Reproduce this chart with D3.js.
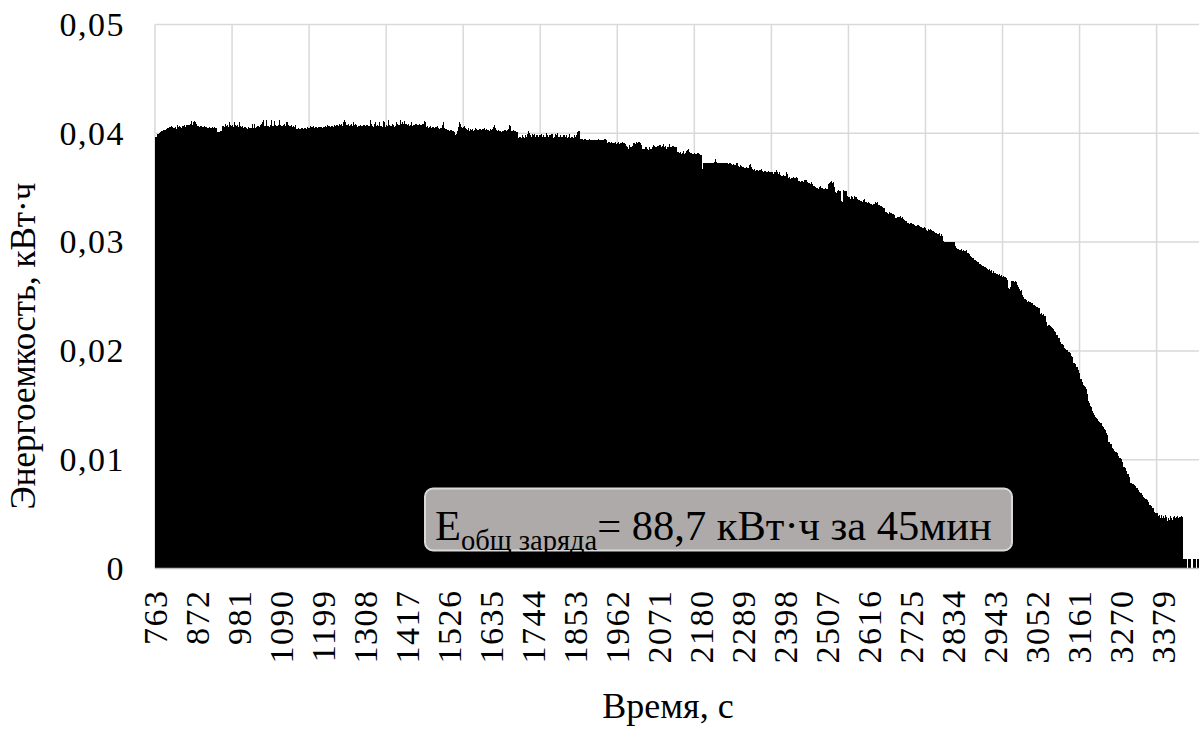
<!DOCTYPE html>
<html>
<head>
<meta charset="utf-8">
<script src="https://cdn.jsdelivr.net/npm/d3@7"></script>
<style>
  html, body { margin: 0; padding: 0; background: #fff; }
</style>
</head>
<body>
<svg id="chart" width="1199" height="733" style="display:block"></svg>
<script>
// Energy delivered in each second of the charging session, in units of 1e-4 kWh (0.1 Wh).
// One row per 50 seconds, starting at second 763.
const energyE4 = [
397,397,398,397,398,398,399,399,398,399,400,400,399,401,401,400,402,401,402,402,403,402,403,404,403,404,404,403,405,404,405,404,405,405,406,405,404,406,405,406,406,405,407,406,405,406,407,406,405,406,
405,406,407,406,405,404,406,407,408,406,405,406,405,407,406,405,406,404,405,406,406,407,408,407,406,407,408,406,407,406,407,408,407,406,408,409,408,407,406,408,409,408,409,410,411,410,409,408,409,410,
411,410,411,410,409,410,411,409,408,407,407,406,407,408,407,406,405,406,407,406,407,408,407,406,407,406,405,406,407,408,407,406,405,406,407,406,405,406,405,404,405,406,407,406,405,406,405,404,405,406,
406,405,406,407,406,405,404,405,406,405,403,402,401,402,401,402,401,401,402,401,402,401,402,404,406,407,406,407,408,407,406,407,408,409,408,407,406,407,408,407,406,407,408,410,409,408,407,406,407,408,
407,408,407,406,407,408,410,409,408,407,406,407,406,407,408,407,406,407,409,410,409,407,406,407,406,405,406,407,406,405,406,407,406,405,406,405,404,405,406,405,404,405,406,405,404,405,404,405,406,405,
405,406,408,409,407,405,406,408,409,407,405,404,405,406,405,406,407,406,407,408,407,406,407,408,410,411,409,407,408,410,411,412,410,408,407,406,407,409,411,412,410,408,407,406,407,408,407,406,407,408,
409,411,412,411,409,407,406,407,408,410,411,410,408,407,406,407,408,407,406,407,408,409,411,412,410,408,407,406,407,408,407,408,407,408,407,408,409,408,407,408,409,410,411,410,408,407,408,407,408,407,
408,407,408,407,408,407,406,407,408,407,408,407,406,407,408,406,405,404,405,404,405,404,405,404,405,404,405,404,403,404,405,404,405,404,405,404,405,404,405,404,405,404,405,404,405,406,407,406,405,406,
406,405,406,407,406,405,406,407,406,405,406,407,406,406,405,406,406,407,406,406,406,405,406,407,406,405,406,406,405,406,406,407,406,406,405,406,407,406,407,406,407,406,407,408,407,406,407,408,407,406,
407,406,407,408,407,406,407,408,407,406,407,408,407,406,407,408,409,408,407,408,409,408,407,408,409,408,407,408,409,410,409,408,407,408,409,408,407,408,409,410,411,412,412,411,410,408,407,408,409,408,
407,408,409,408,407,408,409,408,407,408,409,408,407,408,409,410,409,408,407,408,409,408,407,408,407,406,407,408,407,406,407,408,409,408,407,406,407,408,407,408,409,408,407,408,407,406,407,408,407,408,
407,408,407,406,407,408,407,408,410,412,411,409,407,406,407,408,407,406,407,409,411,412,410,408,407,406,407,408,407,406,407,408,410,411,409,407,406,407,408,407,406,407,409,411,412,410,408,407,406,407,
408,407,406,407,409,411,412,410,408,407,406,407,408,407,406,407,409,411,410,408,407,406,407,408,407,408,410,412,411,409,408,407,408,409,408,410,411,412,410,409,408,409,410,409,408,409,410,411,410,409,
409,408,409,408,407,408,409,410,409,408,407,408,409,408,409,410,409,408,407,408,409,408,407,408,409,408,409,410,409,408,407,408,409,408,407,408,409,408,407,408,409,408,407,408,409,410,409,408,410,411,
412,412,410,407,406,405,406,407,406,405,406,407,406,405,406,407,406,405,406,407,406,405,406,407,406,405,406,405,406,407,406,405,406,407,406,405,404,405,404,405,404,405,406,405,404,406,408,410,410,408,
406,405,404,405,404,405,404,403,404,403,402,403,404,403,402,403,402,403,404,403,402,401,402,403,402,401,402,401,400,399,398,398,399,398,399,402,404,406,408,409,410,411,410,409,407,406,405,406,405,406,
406,405,406,407,406,405,406,405,404,405,404,403,404,405,404,403,402,403,404,405,404,403,404,405,404,403,402,403,404,403,404,405,404,403,404,405,404,403,402,403,404,405,404,403,404,403,402,403,404,405,
404,405,404,403,404,405,404,403,404,403,404,403,404,403,402,403,404,403,402,403,404,403,404,403,402,403,404,405,406,407,408,408,407,405,403,402,403,402,403,402,402,403,402,401,402,403,402,403,402,401,
402,403,402,403,402,401,402,403,402,403,402,403,402,403,404,403,402,404,406,407,408,408,407,405,403,402,403,402,403,402,403,402,401,402,403,402,403,402,401,402,401,398,397,396,397,398,397,396,397,398,
397,396,397,398,397,396,397,398,397,396,397,398,397,396,397,398,399,400,401,402,402,401,400,399,398,397,398,397,398,399,398,397,398,399,400,399,398,397,398,399,398,397,398,399,398,397,396,397,398,399,
398,399,400,399,398,397,398,399,398,397,396,397,398,397,398,399,400,399,398,397,398,397,396,397,398,399,398,397,398,399,400,399,398,397,396,397,398,397,398,399,398,397,398,399,400,399,398,397,396,397,
398,397,398,399,398,397,396,397,398,397,398,399,398,397,396,397,398,399,398,397,396,397,398,397,398,399,398,397,396,397,398,397,396,397,398,397,396,397,398,399,398,397,396,397,398,399,401,402,403,402,
403,402,401,398,395,395,394,395,394,395,394,395,394,394,395,394,394,395,394,394,394,395,394,394,395,394,394,395,394,394,394,395,394,394,395,394,394,395,394,394,394,395,394,394,395,394,394,395,394,394,
394,395,394,394,395,394,394,395,394,394,395,394,394,395,394,394,395,394,394,395,394,394,393,392,391,392,391,392,391,392,391,392,391,391,392,391,392,391,391,392,391,392,391,390,391,392,391,390,391,392,
391,390,391,392,391,390,391,390,391,392,391,390,391,392,391,390,391,390,391,390,391,390,389,388,387,386,387,386,387,386,387,389,388,386,387,386,387,386,387,388,389,390,391,390,391,392,391,390,391,392,
391,390,391,392,391,392,393,392,393,392,391,390,389,388,387,386,387,388,386,387,386,385,386,387,388,387,386,385,386,387,386,385,386,387,386,385,386,387,386,387,386,387,388,389,388,387,388,389,388,387,
388,387,388,389,388,387,388,387,388,389,389,390,389,388,387,388,387,388,389,390,389,388,387,388,387,388,387,386,387,388,387,388,387,388,389,390,389,388,387,388,387,386,387,388,387,388,387,388,387,388,
388,387,388,387,385,384,383,384,383,384,383,382,383,384,383,382,381,382,383,382,383,384,383,382,381,382,383,382,383,384,383,384,385,386,386,385,384,383,382,381,382,381,382,381,380,381,382,381,382,383,
382,381,380,381,382,381,382,383,382,381,382,381,380,381,382,381,380,381,380,379,366,367,373,373,373,373,373,373,373,373,373,373,373,373,373,373,373,373,373,373,373,373,373,373,373,373,373,373,373,373,
373,373,374,375,376,376,375,374,373,373,373,373,373,373,373,373,373,373,373,373,373,373,373,373,373,373,373,373,373,373,373,373,373,373,373,373,373,373,372,371,372,373,374,373,372,371,372,371,370,371,
371,372,371,370,371,372,371,372,373,373,374,374,373,371,370,371,370,369,370,371,370,369,370,369,368,369,368,369,368,367,368,369,368,367,368,369,368,367,368,369,368,369,370,371,372,372,371,370,369,368,
367,366,367,366,367,368,367,366,365,366,367,366,365,366,367,366,365,366,367,366,365,366,367,368,367,366,365,366,365,364,365,366,365,364,365,366,365,364,365,364,363,364,365,364,363,364,363,364,365,364,
364,363,364,365,364,363,364,365,364,363,364,365,366,366,365,364,363,364,363,362,363,364,363,362,361,362,361,362,361,362,361,362,361,362,361,360,361,362,363,364,364,363,361,360,359,360,359,360,359,358,
359,360,359,360,359,358,359,360,359,358,359,358,359,358,359,360,360,359,358,357,356,355,356,355,356,355,356,355,356,355,356,355,356,355,356,357,357,356,357,357,356,357,356,355,354,353,354,353,354,353,
354,353,354,355,355,354,353,354,353,352,353,352,353,352,351,350,351,350,351,350,351,350,349,350,351,350,351,352,352,351,350,349,350,349,350,349,350,349,348,349,350,349,348,349,350,349,350,351,353,355,
354,355,356,355,356,355,356,355,354,355,356,355,354,351,349,347,346,345,346,345,346,347,346,347,348,348,347,348,348,347,346,343,338,337,337,339,346,348,348,347,348,348,347,348,347,345,343,342,341,342,
341,342,341,342,341,340,341,342,341,340,341,342,341,340,341,342,341,340,341,340,341,340,339,340,339,338,339,338,339,338,339,338,337,338,339,338,337,338,339,339,340,340,339,338,337,338,337,338,337,336,
337,336,337,336,336,335,334,335,334,335,334,335,334,335,334,335,334,335,336,337,337,337,336,335,336,337,336,335,334,333,334,333,332,333,334,333,332,331,332,333,332,331,330,331,330,329,328,329,328,327,
328,327,328,327,326,327,328,327,326,327,326,327,326,327,326,327,326,327,326,325,324,323,322,323,322,321,322,323,324,323,323,324,323,324,323,324,323,322,323,324,323,322,321,320,321,320,319,320,319,320,
319,320,319,318,319,318,319,318,317,318,319,318,317,318,317,318,317,318,317,316,317,316,317,316,315,316,315,316,317,316,315,316,315,314,315,314,315,314,313,314,313,314,313,314,313,312,313,314,313,312,
313,312,311,312,311,310,311,312,311,310,311,310,311,312,312,311,310,309,310,309,310,309,308,309,308,309,308,307,308,309,308,307,308,307,306,307,308,307,306,307,306,307,306,305,306,305,301,300,300,300,
300,300,300,300,300,300,300,300,300,300,300,300,300,300,300,300,300,300,300,300,300,300,300,300,300,300,297,296,295,296,295,296,295,294,295,294,295,294,293,294,293,294,293,294,293,293,292,293,293,292,
293,292,293,292,291,292,293,292,291,290,291,290,289,288,289,288,287,288,287,286,287,286,285,286,285,286,285,284,285,284,285,284,283,284,283,282,283,282,281,282,280,279,280,279,278,279,280,279,278,277,
278,279,278,277,278,277,276,277,276,275,275,274,275,274,273,274,275,274,273,274,273,274,273,272,273,274,273,272,271,272,273,272,271,272,271,272,271,270,271,270,271,270,271,270,269,270,269,270,269,268,
269,268,269,268,267,268,267,268,267,266,267,266,265,258,257,258,257,258,257,258,259,262,264,264,263,264,264,263,264,263,262,263,264,264,263,262,263,262,261,262,260,259,257,256,257,256,255,256,255,256,
252,251,252,251,250,251,250,248,247,248,247,246,247,246,245,246,245,246,245,244,245,244,245,244,243,244,245,244,243,242,242,241,242,241,240,241,240,241,240,239,240,239,240,239,240,239,238,235,234,235,
234,235,234,233,234,233,234,233,232,233,233,232,233,232,227,224,223,224,223,224,223,224,223,222,223,222,221,222,221,221,220,219,220,219,218,217,218,217,216,216,215,216,215,214,213,212,213,212,211,210,
208,207,207,206,205,206,205,204,205,204,203,204,203,202,203,202,201,202,201,200,200,199,200,199,198,197,198,197,196,195,195,194,193,190,189,190,189,188,187,188,187,186,185,184,185,184,183,182,181,180,
176,175,174,173,174,173,172,171,170,169,169,168,168,167,166,167,166,165,166,164,160,157,155,154,153,152,151,150,149,148,148,147,146,145,144,143,143,142,141,140,140,139,139,138,137,138,137,136,136,136,
136,135,136,135,134,135,134,133,132,131,132,131,130,129,128,127,128,127,126,125,125,124,123,119,117,116,117,116,115,114,114,113,114,113,112,111,110,109,110,109,108,109,108,107,106,107,106,105,106,105,
104,103,104,102,101,103,102,100,101,100,99,98,95,94,93,94,93,92,93,92,91,90,89,88,87,88,87,86,85,84,82,80,79,80,79,78,79,78,77,78,77,76,77,76,75,76,75,74,75,74,
74,73,72,70,71,70,69,70,69,68,69,68,67,68,67,66,67,66,65,66,65,64,65,64,63,64,63,62,61,60,59,58,58,57,58,58,57,56,57,56,55,56,54,53,52,53,52,51,52,51,
51,50,51,49,48,47,48,49,47,45,46,48,49,47,45,46,47,48,46,45,46,47,48,49,48,47,46,45,44,45,46,47,46,45,46,47,48,47,46,45,44,45,46,47,48,49,48,47,46,45,
46,47,48,49,48,47,46,47,48,47,46,47,48,49,48,47,48,47,46,9,9,9,9,9,9,9,9,9,0,0,0,0,9,9,9,9,9,9,9,0,0,0,0,0,9,9,9,9,9,9,
9,0,0,0,0,9,9,9,9,9
];
const firstSecond = 763;

// Category labels shown on the time axis (every 109th second)
const xTickLabels = [763, 872, 981, 1090, 1199, 1308, 1417, 1526, 1635, 1744, 1853, 1962, 2071,
  2180, 2289, 2398, 2507, 2616, 2725, 2834, 2943, 3052, 3161, 3270, 3379];
// Value axis ticks, kWh
const yTicks = [0, 0.01, 0.02, 0.03, 0.04, 0.05];
const gridEvery = 200; // category gridline interval, seconds

const yTitle = "Энергоемкость, кВт·ч";
const xTitle = "Время, с";
const noteMain = "E";
const noteSub = "общ заряда";
const noteRest = "= 88,7 кВт·ч за 45мин";

const FONT = '"Liberation Serif", "Times New Roman", serif';

const seconds = energyE4.map((_, i) => firstSecond + i);
const energyKWh = energyE4.map(v => v / 10000);

const plot = { left: 155, right: 1199, top: 24.5, bottom: 568.5 };

const svg = d3.select("#chart");

const x = d3.scaleBand().domain(seconds).range([plot.left, plot.right]).padding(0);
const y = d3.scaleLinear().domain([0, 0.05]).range([plot.bottom, plot.top]);

const ruLocale = d3.formatLocale({ decimal: ",", thousands: "\u00a0", grouping: [3], currency: ["", ""] });
const yFormat = ruLocale.format(".2~f");

// Gridlines
const grid = svg.append("g").attr("class", "grid");
grid.selectAll("line.h")
  .data(yTicks.filter(t => t > 0))
  .join("line")
  .attr("class", "h")
  .attr("x1", plot.left).attr("x2", plot.right)
  .attr("y1", d => y(d)).attr("y2", d => y(d))
  .attr("stroke", "#d9d9d9").attr("stroke-width", 1.5);

grid.selectAll("line.v")
  .data(seconds.filter((s, i) => i % gridEvery === 0))
  .join("line")
  .attr("class", "v")
  .attr("x1", d => x(d)).attr("x2", d => x(d))
  .attr("y1", plot.top).attr("y2", plot.bottom)
  .attr("stroke", "#d9d9d9").attr("stroke-width", 1.5);

// Bars, one per second
svg.append("g")
  .attr("shape-rendering", "crispEdges")
  .selectAll("rect")
  .data(seconds.map((s, i) => ({ s, v: energyKWh[i] })))
  .join("rect")
  .attr("x", d => x(d.s))
  .attr("width", x.bandwidth())
  .attr("y", d => y(d.v))
  .attr("height", d => y(0) - y(d.v))
  .attr("fill", "#000");

// Category axis line
svg.append("line")
  .attr("x1", plot.left).attr("x2", plot.right)
  .attr("y1", y(0)).attr("y2", y(0))
  .attr("stroke", "#bfbfbf").attr("stroke-width", 1.5);

// Value axis labels
const yAxis = svg.append("g")
  .attr("transform", `translate(${plot.left},0)`)
  .call(d3.axisLeft(y).tickValues(yTicks).tickFormat(yFormat).tickSize(0).tickPadding(30));
yAxis.attr("font-family", null).attr("font-size", null);
yAxis.select(".domain").remove();
yAxis.selectAll("text")
  .style("font-family", FONT)
  .style("font-size", "34px")
  .style("letter-spacing", "1.5px")
  .attr("fill", "#000");

// Category axis labels, rotated
const xAxis = svg.append("g")
  .attr("transform", `translate(0,${plot.bottom})`)
  .call(d3.axisBottom(x).tickValues(xTickLabels).tickSize(0));
xAxis.attr("font-family", null).attr("font-size", null);
xAxis.select(".domain").remove();
xAxis.selectAll("text")
  .style("font-family", FONT)
  .style("font-size", "34px")
  .style("letter-spacing", "1.5px")
  .attr("fill", "#000")
  .attr("transform", "rotate(-90)")
  .attr("text-anchor", "end")
  .attr("x", -21)
  .attr("y", 0)
  .attr("dy", "0.34em");

// Axis titles
svg.append("text")
  .attr("transform", "translate(35,346) rotate(-90)")
  .attr("text-anchor", "middle")
  .style("font-family", FONT)
  .style("font-size", "35px")
  .attr("fill", "#000")
  .text(yTitle);

svg.append("text")
  .attr("x", 668).attr("y", 718)
  .attr("text-anchor", "middle")
  .style("font-family", FONT)
  .style("font-size", "36px")
  .attr("fill", "#000")
  .text(xTitle);

// Total energy note
const note = svg.append("g");
note.append("rect")
  .attr("x", 425).attr("y", 488.5)
  .attr("width", 587).attr("height", 62)
  .attr("rx", 8).attr("ry", 8)
  .attr("fill", "#aeaaaa")
  .attr("stroke", "#d9d9d9").attr("stroke-width", 2);

const noteText = note.append("text")
  .attr("x", 435).attr("y", 539.5)
  .style("font-family", FONT)
  .style("font-size", "42.5px")
  .attr("fill", "#000");
noteText.append("tspan").text(noteMain);
noteText.append("tspan").style("font-size", "28.5px").attr("dy", 10).text(noteSub);
noteText.append("tspan").attr("dy", -10).text(noteRest);
</script>
</body>
</html>
